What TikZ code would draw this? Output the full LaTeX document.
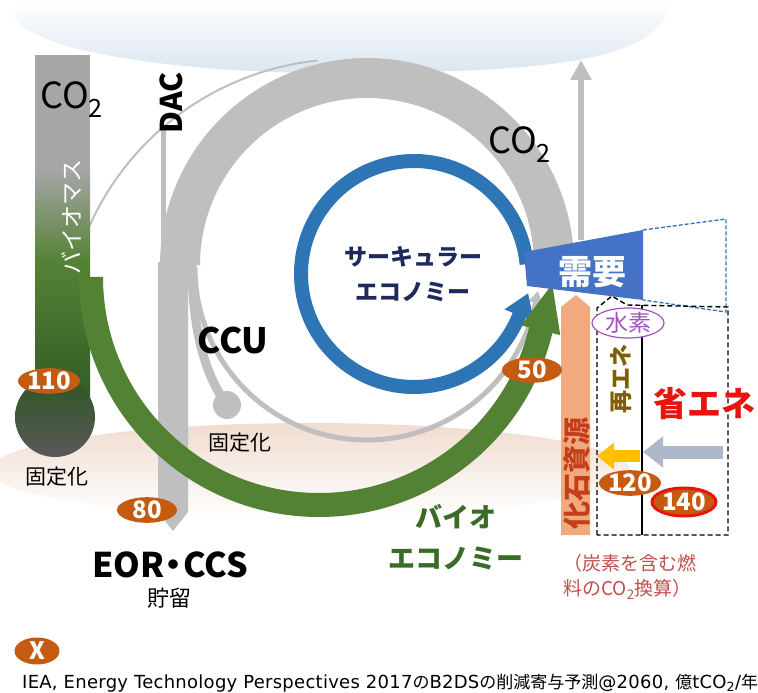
\documentclass[tikz,border=0pt]{standalone}
\usepackage{fontspec}
\setmainfont{Noto Sans CJK JP}
\newfontfamily\dv{DejaVu Sans}[LetterSpace=1.5]
\newfontfamily\jp{Noto Sans CJK JP}
\usetikzlibrary{arrows.meta,shapes.geometric}
\definecolor{grayband}{HTML}{BFBFBF}
\definecolor{bargray}{HTML}{A6A6A6}
\definecolor{greenarc}{HTML}{548235}
\definecolor{darkgreen}{HTML}{3B6B2B}
\definecolor{brownlbl}{HTML}{C55A11}
\definecolor{ringblue}{HTML}{2E75B6}
\definecolor{demandblue}{HTML}{4472C4}
\definecolor{peach}{HTML}{F0AA7E}
\definecolor{navy}{HTML}{1F2A5C}
\definecolor{greentext}{HTML}{3A6B27}
\definecolor{fossil}{HTML}{C43E1C}
\definecolor{olive}{HTML}{7F6000}
\definecolor{hpurple}{HTML}{A155B9}
\definecolor{savered}{HTML}{E8150E}
\definecolor{notered}{HTML}{C0504D}
\definecolor{yellowarr}{HTML}{FFC000}
\definecolor{steel}{HTML}{ADB9CA}
\definecolor{sky}{HTML}{D9E5F1}
\definecolor{groundtop}{HTML}{F0DCD0}
\definecolor{groundmid}{HTML}{FCE5D6}
\newcommand{\fs}[1]{\fontsize{#1}{#1}\selectfont}
\begin{document}
\begin{tikzpicture}[x=1pt,y=-1pt,
  numlbl/.style={ellipse, fill=brownlbl, text=white, font=\bfseries\fs{24}, inner sep=0pt, minimum width=60pt, minimum height=25pt},
  txt/.style={inner sep=0pt},
  dashbox/.style={draw=black, line width=1.4pt, dash pattern=on 5pt off 3pt}]
\useasboundingbox (0,0) rectangle (758,693);
\fill[white] (0,0) rectangle (758,693);
% sky and ground
\shade[top color=white, bottom color=sky] (15,0) -- (15,18) .. controls (40,55) and (200,75) .. (360,73) .. controls (520,71) and (640,66) .. (667,15) -- (667,0) -- cycle;
\shade[top color=groundtop, middle color=groundmid, bottom color=white] (310,470) ellipse (320 and 47);
% thin grey arc
\draw[grayband, line width=2pt] (347,341) ++(-96:282) arc (-96:-157:282);
% big grey band and storage bar
\draw[grayband, line width=40pt] (367,265) ++(3:187) arc (3:-180:187);
\fill[grayband] (158,262) -- (188,262) -- (188,512) -- (173,531) -- (158,512) -- cycle;
\draw[grayband, line width=5pt] (163,128) -- (163,270);
% CCU branches
\draw[grayband, line width=9pt] (192,262) .. controls (192,330) and (205,375) .. (227,405);
\fill[grayband] (227,405) circle (14);
\draw[grayband, line width=5pt, -{Triangle[length=12pt,width=14pt]}] (367,268) ++(180:172) arc (180:12:172) -- ++(2.7,-12.7);
% vertical grey arrow to sky
\draw[grayband, line width=6pt, -{Triangle[length=20pt,width=20pt]}] (581,240) -- (581,60);
% biomass bar
\fill[bargray] (35,55) rectangle (90,170);
\shade[top color=bargray, bottom color=greenarc] (35,170) rectangle (90,262);
\shade[top color=greenarc, bottom color=darkgreen!85!black] (35,262) rectangle (90,400);
\shade[top color=darkgreen!80!black, bottom color=black!65] (55,417) circle (40);
% blue ring
\draw[ringblue, line width=14pt, -{Triangle[length=24pt,width=30pt]}] (414,274) ++(-5:113) arc (-5:-338:113) -- ++(9.4,-23.2);
% green arc
\draw[greenarc, line width=24pt, -{Triangle[length=50pt,width=36pt]}] (319,277) ++(180:228) arc (180:14:228) -- ++(12.6,-50.4);
% fossil arrow
\fill[peach] (561,535) -- (561,307) -- (576,295) -- (590,307) -- (590,535) -- cycle;
% demand
\fill[demandblue] (524,252) -- (643,230) -- (643,300) -- (527,286) -- cycle;
\draw[ringblue, line width=1.3pt, dash pattern=on 4pt off 2pt] (643,230) -- (726,219) -- (726,312) -- (643,300);
% dashed boxes
\draw[dashbox] (597,535) -- (597,308) -- (612,296) -- (627,305) -- (728,307) -- (728,535) -- cycle;
\draw[black, line width=1.2pt] (642,305) -- (642,535);
% arrows
\draw[yellowarr, line width=12pt, -{Triangle[length=17pt,width=26pt]}] (640,456) -- (597,456);
\draw[steel, line width=13pt, -{Triangle[length=20pt,width=30pt]}] (723,452) -- (643,452);
% labels on the picture
\node[txt, anchor=base west, font=\fs{36}] (co2l) at (40,108) {CO\textsubscript{2}};
\node[txt, anchor=base west, font=\fs{36}] (co2r) at (488,153) {CO\textsubscript{2}};
\node[rotate=90, font=\bfseries\fs{30}] (dac) at (171,103) {DAC};
\node[rotate=90, text=white, font=\fs{23}] (bm) at (72,217) {バイオマス};
\node[font=\bfseries\fs{35}] (ccu) at (233,340) {CCU};
\node[font=\fs{21}] (fix2) at (240,443) {固定化};
\node[font=\fs{21}] (fix1) at (57,477) {固定化};
\node[font=\bfseries\fs{34}] (eor) at (170,565) {EOR\kern-0.22em・\kern-0.22em CCS};
\node[font=\fs{22}] (store) at (169,598) {貯留};
\node[text=navy, align=center, font=\bfseries\fontsize{23}{35}\selectfont] (ce) at (413,274) {サーキュラー\\エコノミー};
\node[text=white, font=\bfseries\fs{34}] (demand) at (592,272) {需要};
\node[text=greentext, align=center, font=\bfseries\fontsize{27}{41}\selectfont] (bio) at (456,537) {バイオ\\エコノミー};
\node[rotate=90, text=fossil, font=\bfseries\fs{28}] (fossiltxt) at (577,473) {化石資源};
\node[rotate=90, text=olive, font=\bfseries\fs{23}] (re) at (621,379) {再エネ};
\node[ellipse, draw=hpurple, line width=1.2pt, fill=white, text=hpurple, minimum width=72pt, minimum height=26pt, inner sep=0pt, font=\fs{23}] (h2) at (628,323) {水素};
\node[txt, anchor=west, text=savered, font=\bfseries\fs{34}] (save) at (653,404) {省エネ};
\node[txt, anchor=west, align=left, text=notered, font=\fontsize{19}{25}\selectfont] (note) at (563,577) {（炭素を含む燃\\料のCO\textsubscript{2}換算）};
% number labels
\node[numlbl, minimum width=62pt] (n110) at (49,381) {110};
\node[numlbl] (n80) at (147,510) {80};
\node[numlbl, minimum height=24pt] (n50) at (532,370) {50};
\node[numlbl] (n120) at (630,483) {120};
\node[numlbl, draw=savered, line width=3pt, minimum width=64pt, minimum height=28pt] (n140) at (684,502) {140};
\node[numlbl, minimum width=45pt, minimum height=27pt] (xl) at (37,651) {X};
\node[txt, anchor=base west, font=\dv\fs{18}] (cap) at (22,688) {IEA, Energy Technology Perspectives 2017{\jp\fs{17}の}B2DS{\jp\fs{17}の削減寄与予測}@2060, {\jp\fs{17}億}tCO\textsubscript{2}/{\jp\fs{17}年}};
\end{tikzpicture}
\end{document}
